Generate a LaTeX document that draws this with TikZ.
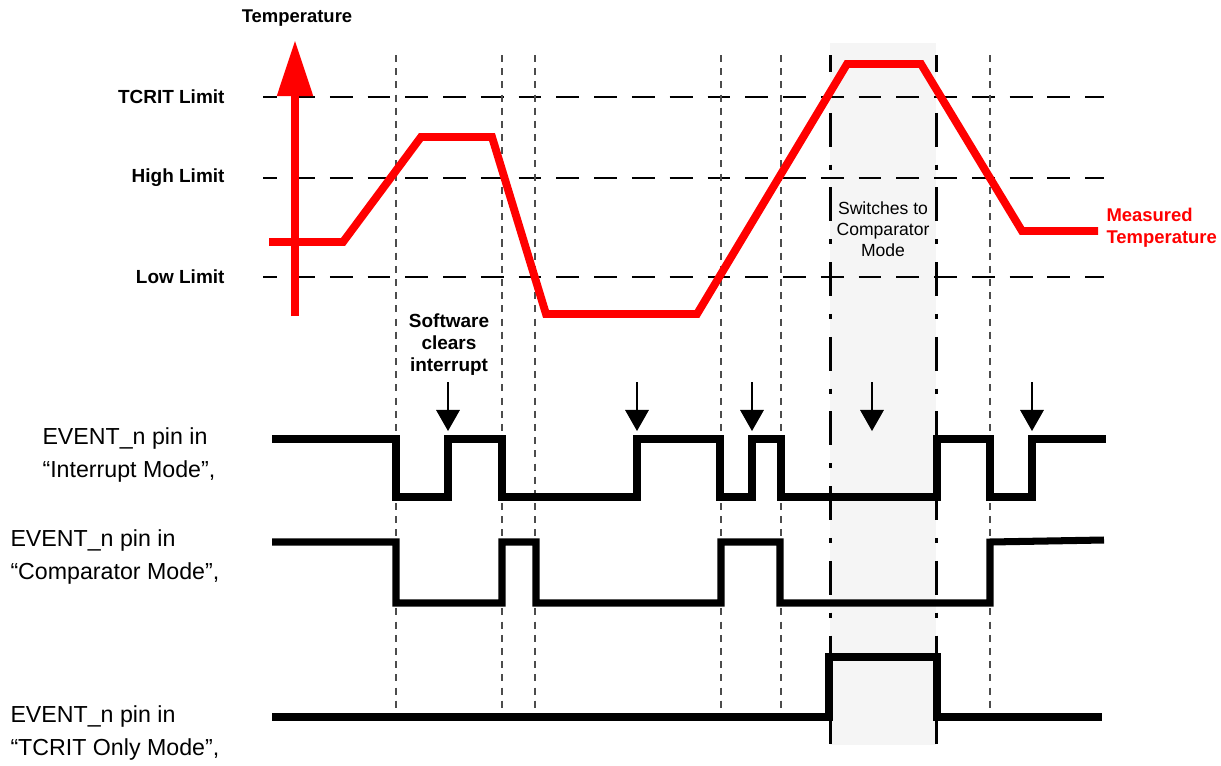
\documentclass[tikz,border=0pt]{standalone}
\usepackage{fontspec}
\setmainfont{Liberation Sans}
\usetikzlibrary{arrows.meta}

\begin{document}
\begin{tikzpicture}[x=0.02cm, y=-0.02cm, semithick]
  \tikzstyle{limitline} = [draw, line width=0.6pt,
    dash pattern=on 13pt off 8.5pt, dash phase=5pt]
  \tikzstyle{timeline} = [draw, black!70, line width=0.6pt,
    dash pattern=on 4pt off 3.5pt]
  \tikzstyle{modeedge} = [draw, line width=1.7pt, dash phase=9.6pt,
    dash pattern=on 19.3pt off 10.2pt on 2.8pt off 10.2pt]
  \tikzstyle{tempcurve} = [draw, red, line width=4.5pt, line join=miter]
  \tikzstyle{pinwave} = [draw, line width=4pt, line join=miter]
  \tikzstyle{clrarrow} = [draw, line width=0.6pt, -{Triangle[width=13.5pt,length=12pt]}]
  \tikzstyle{limittext} = [font=\bfseries\fontsize{10.8}{13}\selectfont,
    anchor=east, inner sep=0pt]
  \tikzstyle{pintext} = [font=\fontsize{13.2}{19}\selectfont,
    align=left, anchor=west, inner sep=0pt]
  \tikzstyle{note} = [font=\bfseries\fontsize{10.8}{12.5}\selectfont,
    align=center, inner sep=0pt]

  \useasboundingbox (0,0) rectangle (1221,765);

  % Comparator window
  \fill[black!4] (830,43) rectangle (936,745);

  % Limits
  \node [limittext] (tcrit) at (225,97) {TCRIT Limit};
  \node [limittext] (high) at (225,178) {High Limit};
  \node [limittext] (low) at (225,277) {Low Limit};
  \draw [limitline] (263,97) -- (1104,97);
  \draw [limitline] (263,178) -- (1104,178);
  \draw [limitline] (263,277) -- (1104,277);

  % Event times
  \foreach \x in {396,502,535,721,781,990}
    \draw [timeline] (\x,55) -- (\x,727);
  \draw [modeedge] (830,55) -- (830,745);
  \draw [modeedge] (936,55) -- (936,745);

  % Temperature
  \node [note, font=\bfseries\fontsize{10.5}{12.5}\selectfont] (axis) at (297,18) {Temperature};
  \draw [tempcurve, -{Triangle[width=19.5pt,length=32pt]}] (295,316) -- (295,40);
  \draw [tempcurve] (269,242) -- (343,242) -- (421,137) -- (492,137)
    -- (546,314) -- (697,314) -- (847,64) -- (921,64) -- (1022,231) -- (1098,231);
  \node [note, red, align=left, anchor=west, font=\bfseries\fontsize{10.5}{12.5}\selectfont]
    (measured) at (1106,228) {Measured\\Temperature};

  \node [note] (software) at (449,345) {Software\\clears\\interrupt};
  \node [note, font=\fontsize{10}{12}\selectfont] (switches) at (883,229)
    {Switches to\\Comparator\\Mode};

  % Software clears
  \foreach \x in {448,637,752,872,1032}
    \draw [clrarrow] (\x,382) -- (\x,431);

  % EVENT_n pin
  \node [pintext] (interrupt) at (42,455) {EVENT\_n pin in\\“Interrupt Mode”,};
  \node [pintext] (comparator) at (10,557) {EVENT\_n pin in\\“Comparator Mode”,};
  \node [pintext] (tcritonly) at (10,733) {EVENT\_n pin in\\“TCRIT Only Mode”,};

  \draw [pinwave] (272,439) -- (396,439) -- (396,497) -- (448,497) -- (448,439)
    -- (502,439) -- (502,497) -- (637,497) -- (637,439) -- (720,439) -- (720,497)
    -- (752,497) -- (752,439) -- (781,439) -- (781,497) -- (937,497) -- (937,439)
    -- (990,439) -- (990,497) -- (1032,497) -- (1032,439) -- (1106,439);
  \draw [pinwave] (272,542) -- (396,542) -- (396,603) -- (502,603) -- (502,542)
    -- (536,542) -- (536,603) -- (721,603) -- (721,542) -- (780,542) -- (780,603)
    -- (990,603) -- (990,542) -- (1104,540);
  \draw [pinwave] (272,717) -- (829,717) -- (829,657) -- (937,657) -- (937,717)
    -- (1102,717);

\end{tikzpicture}
\end{document}
